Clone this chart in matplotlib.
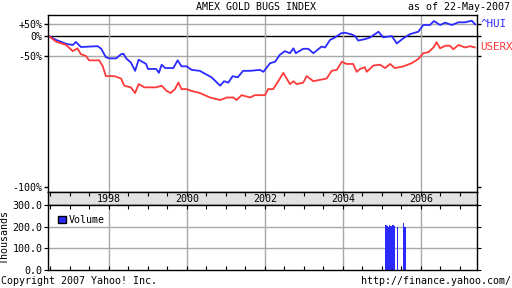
import numpy as np
import matplotlib
matplotlib.use('Agg')
from matplotlib import pyplot as plt
from matplotlib.patches import Patch

# dates as decimal years, values as % change since start
hui_dates = [1996.45, 1996.64, 1996.90, 1997.07, 1997.15, 1997.28, 1997.71, 1997.80, 1997.92, 1998.01,
             1998.18, 1998.31, 1998.37, 1998.44, 1998.56, 1998.67, 1998.76, 1998.95, 1999.00,
             1999.21, 1999.28, 1999.35, 1999.44, 1999.65, 1999.76, 1999.86, 1999.99, 2000.12,
             2000.33, 2000.42, 2000.63, 2000.85, 2000.95, 2001.06, 2001.17, 2001.30, 2001.44,
             2001.62, 2001.87, 2001.96, 2002.13, 2002.26, 2002.38, 2002.51, 2002.64, 2002.73,
             2002.79, 2002.98, 2003.11, 2003.24, 2003.45, 2003.54, 2003.67, 2003.79, 2003.95,
             2004.05, 2004.22, 2004.31, 2004.39, 2004.56, 2004.69, 2004.91, 2005.03, 2005.25,
             2005.38, 2005.55, 2005.72, 2005.93, 2006.06, 2006.23, 2006.33, 2006.49, 2006.62,
             2006.79, 2006.96, 2007.13, 2007.30, 2007.39]
hui_pct = [0, -13, -24, -27, -19, -32, -30, -36, -52, -54,
           -54, -47, -46, -54, -60, -70, -56, -62, -68,
           -68, -72, -63, -67, -67, -57, -65, -65, -69,
           -70, -72, -76, -82, -79, -80, -75, -76, -70,
           -70, -69, -71, -61, -59, -48, -41, -45, -35,
           -45, -36, -36, -45, -31, -33, -13, -6, 9,
           11, 5, -1, -15, -11, -6, 15, -5, -1,
           -23, -8, 6, 15, 45, 45, 66, 45, 57,
           45, 59, 59, 68, 48]

userx_dates = [1996.45, 1996.64, 1996.90, 1997.07, 1997.19, 1997.28, 1997.41, 1997.49, 1997.75,
               1997.84, 1997.92, 1998.14, 1998.31, 1998.39, 1998.56, 1998.67, 1998.76, 1998.91,
               1999.21, 1999.35, 1999.48, 1999.58, 1999.69, 1999.78, 1999.86, 1999.99, 2000.12,
               2000.33, 2000.59, 2000.85, 2001.02, 2001.19, 2001.27, 2001.40, 2001.62, 2001.74,
               2001.87, 2002.00, 2002.08, 2002.21, 2002.34, 2002.47, 2002.64, 2002.73, 2002.81,
               2002.98, 2003.07, 2003.24, 2003.41, 2003.58, 2003.71, 2003.84, 2003.97, 2004.09,
               2004.26, 2004.35, 2004.44, 2004.56, 2004.61, 2004.78, 2004.95, 2005.08, 2005.21,
               2005.33, 2005.55, 2005.76, 2005.93, 2006.06, 2006.19, 2006.32, 2006.40, 2006.49,
               2006.62, 2006.74, 2006.83, 2006.96, 2007.13, 2007.26, 2007.38]
userx_pct = [0, -18, -27, -41, -35, -47, -50, -57, -57,
             -65, -75, -75, -77, -82, -83, -86, -81, -83,
             -83, -82, -85, -86, -84, -80, -84, -84, -85,
             -86, -88, -89, -88, -88, -89, -87, -88, -87,
             -87, -87, -84, -84, -79, -72, -81, -79, -81,
             -80, -75, -79, -78, -77, -70, -69, -59, -62,
             -62, -71, -68, -66, -71, -64, -63, -67, -62,
             -67, -65, -61, -55, -45, -43, -33, -20, -35,
             -29, -29, -37, -27, -33, -30, -33]

vol_dates = [2005.08, 2005.10, 2005.12, 2005.14, 2005.16, 2005.18, 2005.20, 2005.22,
             2005.24, 2005.26, 2005.28, 2005.30, 2005.32, 2005.40, 2005.54, 2005.59]
vol_k = [205, 210, 206, 203, 200, 204, 208, 205, 202, 207, 204, 206, 203, 200, 215, 200]

year_labels = [1998, 2000, 2002, 2004, 2006]

BLUE = '#2a2aff'
RED = '#ff3a3a'
GRID = '#a8a8a8'
FONT = 'DejaVu Sans Mono'
FS = 7.2

plt.rcParams['font.family'] = FONT
plt.rcParams['font.size'] = FS

W, H = 512, 288
fig = plt.figure(figsize=(W / 100, H / 100), dpi=100)


def box(x0, y0, x1, y1):
    return [x0 / W, 1 - y1 / H, (x1 - x0) / W, (y1 - y0) / H]


xlim = (1996.436, 2007.436)
all_years = np.arange(1996.5, 2007.5, 0.5)

# main chart (log of price ratio)
ax = fig.add_axes(box(48, 15, 477, 192))
ax.set_yscale('log')
ax.plot(hui_dates, 1 + np.array(hui_pct) / 100, color=BLUE, lw=1.3)
ax.plot(userx_dates, 1 + np.array(userx_pct) / 100, color=RED, lw=1.3)
ax.set_xlim(*xlim)
ax.set_ylim(0.00466, 2.044)
for yv in (1.5, 0.5):
    ax.axhline(yv, color=GRID, lw=1, zorder=0)
ax.axhline(1.0, color='black', lw=1, zorder=0)
for yr in year_labels:
    ax.axvline(yr, color=GRID, lw=1, zorder=0)
ax.set_xticks([])
ax.set_yticks([1.5, 1.0, 0.5, 0.0055])
ax.set_yticklabels(['+50%', '0%', '-50%', '-100%'])
ax.yaxis.set_minor_locator(matplotlib.ticker.NullLocator())
ax.tick_params(axis='y', which='major', direction='out', length=3, width=1,
               right=True, pad=1)
ax.text(1.008, 1.5, '^HUI', color=BLUE, transform=ax.get_yaxis_transform(),
        va='center', ha='left', fontsize=FS + 0.6)
ax.text(1.008, 0.68, 'USERX', color=RED, transform=ax.get_yaxis_transform(),
        va='center', ha='left', fontsize=FS + 0.6)

# date band
axb = fig.add_axes(box(48, 192, 477, 205))
axb.set_facecolor('#e2e2e2')
axb.set_xlim(*xlim)
axb.set_ylim(0, 1)
axb.set_yticks([])
axb.set_xticks(all_years)
axb.set_xticklabels([])
axb.tick_params(axis='x', direction='in', length=3, top=True, bottom=False)
for yr in year_labels:
    axb.text(yr, 0.45, str(yr), ha='center', va='center')

# volume
axv = fig.add_axes(box(48, 205, 477, 270))
axv.bar(vol_dates[:13], vol_k[:13], width=0.024, color=BLUE, zorder=2)
axv.bar(vol_dates[13:], vol_k[13:], width=0.027, color=BLUE, zorder=2)
axv.set_xlim(*xlim)
axv.set_ylim(0, 300)
for yv in (100, 200):
    axv.axhline(yv, color=GRID, lw=1, zorder=0)
for yr in year_labels:
    axv.axvline(yr, color=GRID, lw=1, zorder=0)
axv.set_xticks(all_years)
axv.set_xticklabels([])
axv.tick_params(axis='x', direction='in', length=3, top=True, bottom=True)
axv.set_yticks([0, 100, 200, 300])
axv.set_yticklabels(['0.0', '100.0', '200.0', '300.0'])
axv.tick_params(axis='y', direction='out', length=3, right=True, pad=1)
axv.set_ylabel('Thousands', labelpad=2)
axv.legend(handles=[Patch(facecolor=BLUE, edgecolor='black', label='Volume')],
           loc='upper left', frameon=False, handlelength=0.8, handleheight=0.8,
           borderaxespad=0.7, handletextpad=0.3, borderpad=0.3)

for a in (ax, axb, axv):
    for s in a.spines.values():
        s.set_linewidth(1)

fig.text(256 / W, 1 - 7 / H, 'AMEX GOLD BUGS INDEX', ha='center', va='center')
fig.text(510 / W, 1 - 7 / H, 'as of 22-May-2007', ha='right', va='center')
fig.text(1 / W, 1 - 281 / H, 'Copyright 2007 Yahoo! Inc.', ha='left', va='center')
fig.text(511 / W, 1 - 281 / H, 'http://finance.yahoo.com/', ha='right', va='center')

fig.savefig('out.png', dpi=100)
